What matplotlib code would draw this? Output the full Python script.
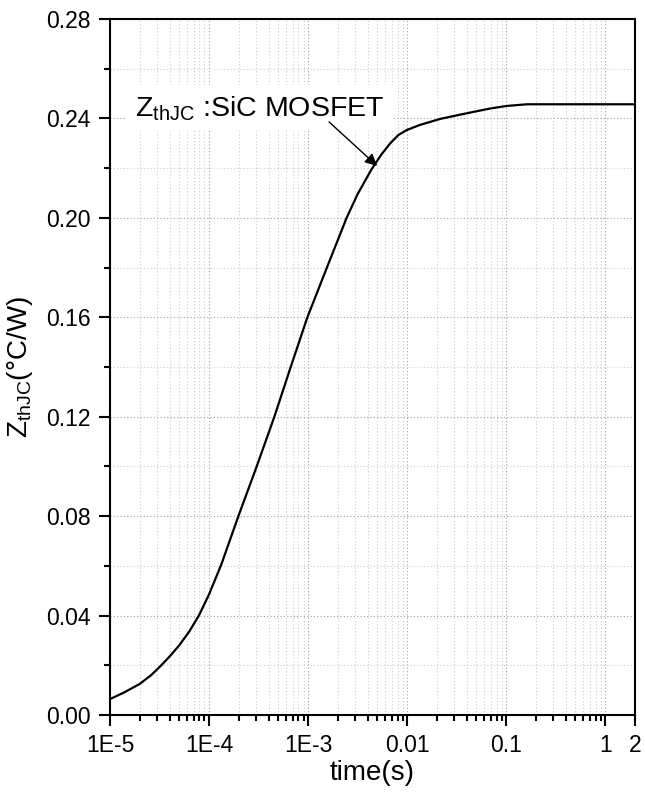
import matplotlib
matplotlib.use('Agg')
import matplotlib.pyplot as plt
from matplotlib.ticker import FixedLocator, MultipleLocator, NullFormatter

plt.rcParams['font.family'] = ['Liberation Sans', 'DejaVu Sans']
plt.rcParams['mathtext.fontset'] = 'custom'
plt.rcParams['mathtext.rm'] = 'Liberation Sans'

# transient thermal impedance curve
time_s = [1e-5, 1.38e-5, 2e-5, 2.6e-5, 3.3e-5, 4.1e-5, 5e-5, 6.3e-5, 7.9e-5,
          1.0e-4, 1.33e-4, 1.98e-4, 3.03e-4, 4.57e-4, 6.68e-4, 9.84e-4,
          1.55e-3, 2.45e-3, 3.16e-3, 4.37e-3, 5.5e-3, 6.76e-3, 8.2e-3,
          1.0e-2, 1.35e-2, 2.15e-2, 3.7e-2, 6.9e-2, 0.1, 0.162, 0.5, 2.0]
zth = [0.0064, 0.0090, 0.0125, 0.0160, 0.0200, 0.0240, 0.0280, 0.0335, 0.0400,
       0.0485, 0.0605, 0.0800, 0.1000, 0.1200, 0.1400, 0.1600,
       0.1800, 0.2000, 0.2095, 0.2195, 0.2255, 0.2300, 0.2334,
       0.2354, 0.2374, 0.2398, 0.2418, 0.2440, 0.2450, 0.2457, 0.2457, 0.2457]

xticks = [1e-5, 1e-4, 1e-3, 1e-2, 1e-1, 1, 2]
xticklabels = ['1E-5', '1E-4', '1E-3', '0.01', '0.1', '1', '2']
yticks = [0.00, 0.04, 0.08, 0.12, 0.16, 0.20, 0.24, 0.28]

fig = plt.figure(figsize=(6.45, 7.96), dpi=100)
ax = fig.add_axes([0.1705, 0.1018, 0.814, 0.8743])

ax.plot(time_s, zth, color='black', lw=1.6, zorder=3)

ax.set_xscale('log')
ax.set_xlim(1e-5, 2)
ax.set_ylim(0, 0.28)

ax.xaxis.set_major_locator(FixedLocator(xticks))
ax.set_xticklabels(xticklabels)
minors = [m * 10.0 ** e for e in range(-5, 0) for m in range(2, 10)]
ax.xaxis.set_minor_locator(FixedLocator(minors))
ax.xaxis.set_minor_formatter(NullFormatter())

ax.set_yticks(yticks)
ax.set_yticklabels(['%.2f' % v for v in yticks])
ax.yaxis.set_minor_locator(MultipleLocator(0.02))

ax.tick_params(which='major', direction='out', length=8, width=1.5,
               labelsize=16.5, pad=6)
ax.tick_params(which='minor', direction='out', length=4.5, width=1.5)
ax.tick_params(top=False, right=False, which='both')

for s in ax.spines.values():
    s.set_linewidth(1.5)

ax.grid(which='major', color='#a0a0a0', ls=(0, (1, 2)), lw=0.8)
ax.grid(which='minor', color='#cccccc', ls=(0, (1, 2)), lw=0.8)
ax.set_axisbelow(True)

ax.set_xlabel('time(s)', fontsize=20, labelpad=2)
ax.set_ylabel(r'Z$_{\mathrm{thJC}}$(°C/W)', fontsize=20, labelpad=8)

ax.text(1.8e-5, 0.241, r'Z$_{\mathrm{thJC}}$ :SiC MOSFET', fontsize=20.5,
        va='baseline', zorder=4,
        bbox=dict(boxstyle='square,pad=0.3', fc='white', ec='none'))
ax.annotate('', xy=(4.98e-3, 0.2209), xytext=(1.63e-3, 0.2386),
            arrowprops=dict(arrowstyle='-|>', color='black', lw=1.0,
                            mutation_scale=18, shrinkA=0, shrinkB=0),
            zorder=4)

fig.savefig('out.png', dpi=100)
